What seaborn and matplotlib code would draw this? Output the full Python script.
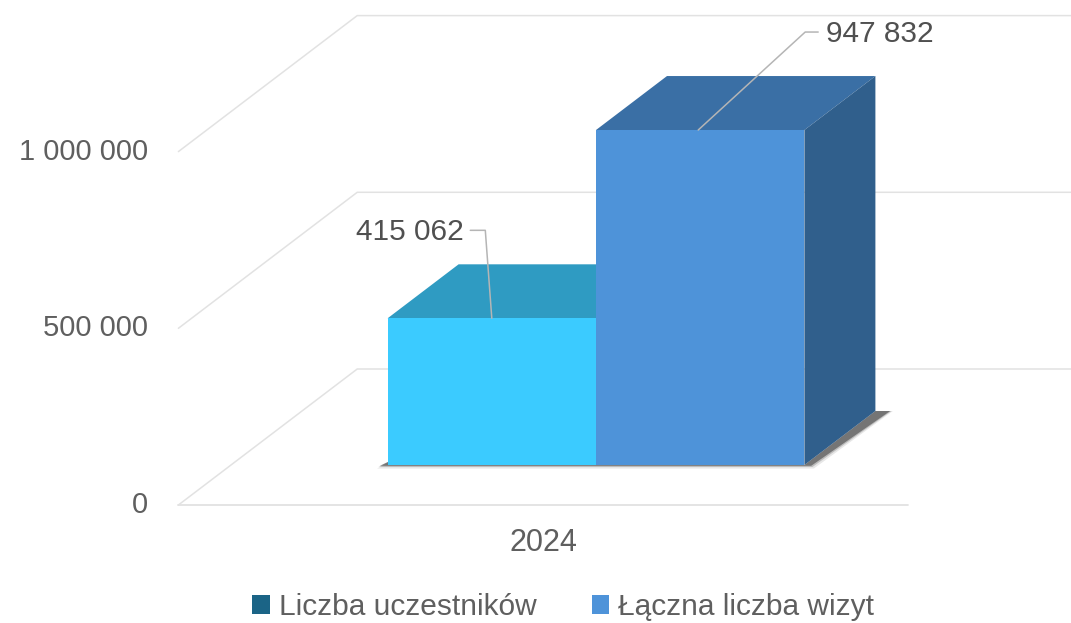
#!/usr/bin/env python3

import seaborn as sns
import matplotlib.pyplot as plt
from matplotlib.patches import Patch, Polygon
import pandas as pd

# data
years = ['2024']
series = ['Liczba uczestników', 'Łączna liczba wizyt']
values = [415062, 947832]
y_ticks = [0, 500000, 1000000]
y_tick_labels = ['0', '500 000', '1 000 000']
value_labels = ['415 062', '947 832']

front_colors = ['#3BCBFF', '#4E93D9']
top_colors = ['#2F9BC2', '#3A6FA5']
side_colors = ['#2A7A99', '#305F8C']
legend_colors = ['#1B6486', '#4E93D9']
grid_color = '#E2E2E2'
text_color = '#5F5F5F'

# scale: pixels per data unit, used to fake the 3d depth
px_x = 521.0
px_y = 353.4 / 1000000
zero_px = 465
center_px = 596
w, h = 1071, 623


def project(x, v, depth=0, shift_x=0, shift_y=0):
    # depth in pixels of vertical rise, the receding lines go 71 right for 54 up
    # shift_x / shift_y are plain pixel nudges, positive shift_y goes down
    return (x + (depth * 71 / 54 + shift_x) / px_x, v + (depth - shift_y) / px_y)


sns.set_style('white')
plt.rcParams['font.family'] = ['Liberation Sans', 'DejaVu Sans']

df = pd.DataFrame({'rok': years * 2, 'seria': series, 'wartosc': values})

fig = plt.figure(figsize=(w / 100, h / 100), dpi=100)
ax = fig.add_axes([0, 0, 1, 1])

sns.barplot(data=df, x='rok', y='wartosc', hue='seria', hue_order=series,
            palette=front_colors, width=0.8, gap=0, saturation=1, legend=False,
            linewidth=0, zorder=5, ax=ax)
bars = list(ax.patches)

ax.set_xlim(-center_px / px_x, (w - center_px) / px_x)
ax.set_ylim(-(h - zero_px) / px_y, zero_px / px_y)
ax.axis('off')

# walls and floor
front_d = -40
back_d = 96
floor_half = 365 / px_x
right_edge = ax.get_xlim()[1]
for v, lab in zip(y_ticks, y_tick_labels):
    p0 = project(-floor_half, v, front_d)
    p1 = project(-floor_half, v, back_d)
    ax.plot([p0[0], p1[0], right_edge], [p0[1], p1[1], p1[1]],
            color=grid_color, lw=1.1, zorder=1, solid_joinstyle='miter')
    ax.text(p0[0] - 30 / px_x, p0[1], lab, ha='right', va='center',
            fontsize=21, color=text_color)

# front edge of the floor
floor_l = project(-floor_half, 0, front_d)
floor_r = project(floor_half, 0, front_d)
ax.plot([floor_l[0], floor_r[0]], [floor_l[1], floor_l[1]], color=grid_color, lw=1.3, zorder=1)

ax.text(project(0, 0, front_d)[0], floor_l[1] - 38 / px_y, years[0], ha='center', va='center',
        fontsize=22, color=text_color)

x_left = bars[0].get_x()
x_right = bars[1].get_x() + bars[1].get_width()

# soft shadow below the bars
for grow, alpha in [(3.5, 0.12), (2, 0.25), (0.8, 0.55)]:
    shadow = [project(x_left, 0, 0, -7 - grow, grow),
              project(x_left, 0, 8),
              project(x_right, 0),
              project(x_right, 0, 54),
              project(x_right, 0, 54, 14 + grow),
              project(x_right, 0, 0, 6 + grow, grow)]
    ax.add_patch(Polygon(shadow, closed=True, fc='#3C3C3C', ec='none', alpha=alpha, zorder=2))

# top and side faces come from the bars drawn by seaborn
for i, bar in enumerate(bars):
    x0 = bar.get_x()
    x1 = x0 + bar.get_width()
    top = bar.get_height()
    ax.add_patch(Polygon([project(x0, top), project(x0, top, 54), project(x1, top, 54), project(x1, top)],
                         closed=True, fc=top_colors[i], ec='none', zorder=3 + i))
    ax.add_patch(Polygon([project(x1, 0), project(x1, 0, 54), project(x1, top, 54), project(x1, top)],
                         closed=True, fc=side_colors[i], ec='none', zorder=3 + i))
    bar.set_zorder(3.5 + i)

# value labels with leader lines
lead_col = '#B5B5B5'
anchor0 = project(bars[0].get_x() + bars[0].get_width() / 2, values[0])
elbow0 = project(anchor0[0], values[0], 0, -6.5, -88)
end0 = project(anchor0[0], values[0], 0, -21.5, -88)
ax.plot([anchor0[0], elbow0[0], end0[0]], [anchor0[1], elbow0[1], end0[1]], color=lead_col, lw=1.1, zorder=8)
ax.text(end0[0] - 7 / px_x, end0[1] - 2 / px_y, value_labels[0], ha='right', va='center',
        fontsize=21.5, color='#505050')

anchor1 = project(bars[1].get_x() + bars[1].get_width() / 2, values[1], 0, -2)
elbow1 = project(anchor1[0], values[1], 0, 107, -98)
end1 = project(anchor1[0], values[1], 0, 120, -98)
ax.plot([anchor1[0], elbow1[0], end1[0]], [anchor1[1], elbow1[1], end1[1]], color=lead_col, lw=1.1, zorder=8)
ax.text(end1[0] + 8 / px_x, end1[1] - 2 / px_y, value_labels[1], ha='left', va='center',
        fontsize=21.5, color='#505050')

handles = [Patch(fc=c, ec='none') for c in legend_colors]
ax.legend(handles, series, loc='center', bbox_to_anchor=(0.5257, 0.0257), ncol=2, frameon=False,
          fontsize=21.5, labelcolor=text_color, handlelength=0.6, handleheight=0.6,
          handletextpad=0.3, columnspacing=1.85, borderpad=0, borderaxespad=0)

plt.savefig('out.png', dpi=100)
